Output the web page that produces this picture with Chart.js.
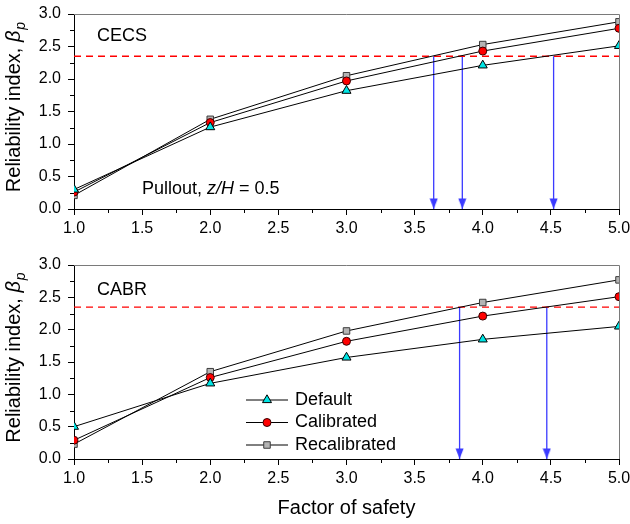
<!DOCTYPE html>
<html><head><meta charset="utf-8">
<script src="https://cdn.jsdelivr.net/npm/chart.js@4.4.1/dist/chart.umd.min.js"></script>
<style>
html,body{margin:0;padding:0;background:#fff;}
#wrap{position:relative;width:630px;height:524px;overflow:hidden;}
canvas{position:absolute;left:0;}
</style></head><body>
<div id="wrap">
<canvas id="c1" width="630" height="250" style="top:0px"></canvas>
<canvas id="c2" width="630" height="274" style="top:250px"></canvas>
</div>
<script>
// ---------- data ----------
const factorOfSafety = [1, 2, 3, 4, 5];
const seriesNames = ['Default', 'Calibrated', 'Recalibrated'];
const cecsDefault      = [0.30, 1.26, 1.82, 2.21, 2.51];
const cecsCalibrated   = [0.26, 1.33, 1.97, 2.43, 2.78];
const cecsRecalibrated = [0.21, 1.38, 2.05, 2.53, 2.88];
const cabrDefault      = [0.50, 1.17, 1.57, 1.85, 2.05];
const cabrCalibrated   = [0.29, 1.26, 1.82, 2.21, 2.51];
const cabrRecalibrated = [0.23, 1.35, 1.98, 2.42, 2.77];
const targetBeta = 2.35;
const cecsArrowX = [3.64, 3.85, 4.52];
const cabrArrowX = [3.83, 4.47];
const xTickValues = [1.0, 1.5, 2.0, 2.5, 3.0, 3.5, 4.0, 4.5, 5.0];
const xTickLabels = ['1.0', '1.5', '2.0', '2.5', '3.0', '3.5', '4.0', '4.5', '5.0'];
const xMinorTicks = [1.25, 1.75, 2.25, 2.75, 3.25, 3.75, 4.25, 4.75];
const yTickValues = [0.0, 0.5, 1.0, 1.5, 2.0, 2.5, 3.0];
const yTickLabels = ['0.0', '0.5', '1.0', '1.5', '2.0', '2.5', '3.0'];
const yMinorTicks = [0.25, 0.75, 1.25, 1.75, 2.25, 2.75];
const xAxisTitle = 'Factor of safety';
const yAxisTitle = ['Reliability index, ', 'β', 'p'];
const cecsLabel = 'CECS';
const cabrLabel = 'CABR';
const pulloutNote = ['Pullout, ', 'z/H', ' = 0.5'];

// ---------- styles ----------
const FONT = '"Liberation Sans", Arial, Helvetica, sans-serif';
Chart.defaults.font.family = FONT;
Chart.defaults.color = '#000';
const seriesStyle = {
  Default:      {pointStyle: 'triangle', radius: 5.2, bg: '#00e5e5', border: '#000'},
  Calibrated:   {pointStyle: 'circle',   radius: 4.0, bg: '#ff0000', border: '#3a0000'},
  Recalibrated: {pointStyle: 'rect',     radius: 4.6, bg: '#b4b4b4', border: '#3c3c3c'}
};
const arrowColor = '#3b3bff';

// arrowhead image: tip located at image centre
const arrowHead = (function () {
  const c = document.createElement('canvas');
  c.width = 9; c.height = 24;
  const g = c.getContext('2d');
  g.fillStyle = arrowColor;
  g.beginPath(); g.moveTo(0.5, 1.5); g.lineTo(8.5, 1.5); g.lineTo(4.5, 12); g.closePath(); g.fill();
  return c;
})();

function seriesDatasets(valueLists) {
  return seriesNames.map((name, k) => {
    const s = seriesStyle[name];
    return {
      label: name, type: 'line',
      data: factorOfSafety.map((x, i) => ({x: x, y: valueLists[k][i]})),
      borderColor: '#000', borderWidth: 1, tension: 0, fill: false,
      pointStyle: s.pointStyle, pointRadius: s.radius, pointBackgroundColor: s.bg,
      pointBorderColor: s.border, pointBorderWidth: 1, pointHoverRadius: s.radius
    };
  });
}
function targetDataset() {
  return {label: 'target', type: 'line',
    data: [{x: xTickValues[0], y: targetBeta}, {x: xTickValues[xTickValues.length - 1], y: targetBeta}],
    borderColor: '#ff0000', borderWidth: 1.3, borderDash: [7, 5], pointRadius: 0, pointHoverRadius: 0};
}
function arrowDatasets(xs) {
  return xs.map(x => ({label: 'arrow', type: 'line',
    data: [{x: x, y: targetBeta}, {x: x, y: 0}],
    borderColor: arrowColor, borderWidth: 1.3, pointRadius: [0, 1], pointHoverRadius: [0, 1],
    pointStyle: arrowHead}));
}

function drawYTitle(ctx, cx, cy) {
  ctx.save();
  const f1 = '20px ' + FONT, f2 = 'italic 20px ' + FONT, f3 = 'italic 14px ' + FONT;
  ctx.font = f1; const w1 = ctx.measureText(yAxisTitle[0]).width;
  ctx.font = f2; const w2 = ctx.measureText(yAxisTitle[1]).width;
  ctx.font = f3; const w3 = ctx.measureText(yAxisTitle[2]).width;
  const total = w1 + w2 + w3;
  ctx.translate(cx, cy); ctx.rotate(-Math.PI / 2);
  ctx.fillStyle = '#000'; ctx.textBaseline = 'alphabetic'; ctx.textAlign = 'left';
  let x = -total / 2;
  ctx.font = f1; ctx.fillText(yAxisTitle[0], x, 0); x += w1;
  ctx.font = f2; ctx.fillText(yAxisTitle[1], x, 0); x += w2 + 1;
  ctx.font = f3; ctx.fillText(yAxisTitle[2], x, 5);
  ctx.restore();
}

function drawRich(ctx, parts, x, y, size) {
  ctx.save(); ctx.textBaseline = 'middle'; ctx.textAlign = 'left'; ctx.fillStyle = '#000';
  parts.forEach(p => {
    ctx.font = (p.italic ? 'italic ' : '') + size + 'px ' + FONT;
    ctx.fillText(p.t, x, y); x += ctx.measureText(p.t).width;
  });
  ctx.restore();
}

const decor = {
  id: 'decor',
  afterDraw(chart, args, o) {
    const ctx = chart.ctx, a = chart.chartArea;
    const xs = chart.scales.x, ys = chart.scales.y;
    ctx.save();
    // frame (top/right)
    ctx.strokeStyle = '#7a7a7a'; ctx.lineWidth = 1;
    ctx.beginPath();
    ctx.moveTo(a.left, Math.round(a.top) + 0.5); ctx.lineTo(Math.round(a.right) + 0.5, Math.round(a.top) + 0.5);
    ctx.lineTo(Math.round(a.right) + 0.5, a.bottom);
    ctx.stroke();
    // minor ticks
    ctx.strokeStyle = '#000';
    ctx.beginPath();
    xMinorTicks.forEach(v => {
      const px = Math.round(xs.getPixelForValue(v)) + 0.5;
      ctx.moveTo(px, a.bottom); ctx.lineTo(px, a.bottom + 4);
    });
    yMinorTicks.forEach(v => {
      const py = Math.round(ys.getPixelForValue(v)) + 0.5;
      ctx.moveTo(a.left, py); ctx.lineTo(a.left - 4, py);
    });
    ctx.stroke();
    ctx.restore();
    // y title
    drawYTitle(ctx, 20, (a.top + a.bottom) / 2 - 4);
    // panel label
    drawRich(ctx, [{t: o.label}], a.left + 23, a.top + o.labelDy, 18);
    if (o.note) drawRich(ctx, [{t: pulloutNote[0]}, {t: pulloutNote[1], italic: true}, {t: pulloutNote[2]}], a.left + 68, a.bottom - 20, 18);
    if (o.legend) {
      const rows = [400, 422.5, 445].map(v => v - 250);
      seriesNames.forEach((name, k) => {
        const s = seriesStyle[name], y = rows[k];
        ctx.save();
        ctx.strokeStyle = '#000'; ctx.lineWidth = 1;
        ctx.beginPath(); ctx.moveTo(246, y); ctx.lineTo(288, y); ctx.stroke();
        ctx.fillStyle = s.bg; ctx.strokeStyle = s.border; ctx.lineWidth = 1;
        Chart.helpers.drawPoint(ctx, {pointStyle: s.pointStyle, radius: s.radius, rotation: 0, borderWidth: 1}, 267, y);
        ctx.restore();
        drawRich(ctx, [{t: name}], 295, y, 18);
      });
    }
  }
};

function makeChart(id, valueLists, arrows, opt) {
  return new Chart(document.getElementById(id), {
    type: 'line',
    data: {datasets: [...seriesDatasets(valueLists), targetDataset(), ...arrowDatasets(arrows)]},
    options: {
      responsive: false, animation: false, events: [],
      layout: {padding: {left: 0, right: 11, top: opt.top, bottom: 0}},
      plugins: {legend: {display: false}, tooltip: {enabled: false}, decor: opt.decor},
      scales: {
        x: {
          type: 'linear', min: 1, max: 5,
          afterBuildTicks: s => { s.ticks = xTickValues.map(v => ({value: v})); },
          afterFit: s => { s.height = opt.xHeight; s.paddingLeft = 0; s.paddingRight = 0; },
          ticks: {callback: (v, i) => xTickLabels[i], font: {size: 16}, color: '#000', padding: 4, maxRotation: 0, autoSkip: false},
          grid: {drawOnChartArea: false, drawTicks: true, tickLength: 6, color: '#000', lineWidth: 1},
          border: {color: '#000', width: 1},
          title: opt.xTitle ? {display: true, text: xAxisTitle, font: {size: 20}, color: '#000', padding: {top: 0, bottom: 4}} : {display: false}
        },
        y: {
          type: 'linear', min: 0, max: 3,
          afterBuildTicks: s => { s.ticks = yTickValues.map(v => ({value: v})); },
          afterFit: s => { s.width = 74; s.paddingTop = 0; s.paddingBottom = 0; },
          ticks: {callback: (v, i) => yTickLabels[i], font: {size: 16}, color: '#000', padding: 7, autoSkip: false},
          grid: {drawOnChartArea: false, drawTicks: true, tickLength: 6, color: '#000', lineWidth: 1},
          border: {color: '#000', width: 1}
        }
      }
    },
    plugins: [decor]
  });
}

makeChart('c1', [cecsDefault, cecsCalibrated, cecsRecalibrated], cecsArrowX,
  {top: 14, xHeight: 41, xTitle: false, decor: {label: cecsLabel, labelDy: 22, note: true, legend: false}});
makeChart('c2', [cabrDefault, cabrCalibrated, cabrRecalibrated], cabrArrowX,
  {top: 15, xHeight: 65, xTitle: true, decor: {label: cabrLabel, labelDy: 25, note: false, legend: true}});
</script>
</body></html>
